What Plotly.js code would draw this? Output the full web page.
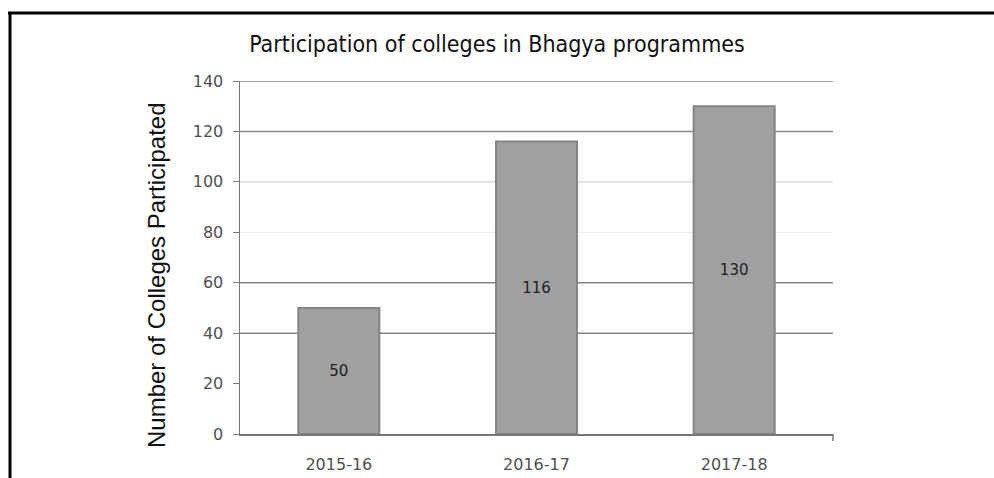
<!DOCTYPE html>
<html>
<head>
<meta charset="utf-8">
<script src="https://cdn.plot.ly/plotly-3.0.1.min.js"></script>
<style>
html,body{margin:0;padding:0;background:#fff;}
#chart{width:994px;height:478px;}
</style>
</head>
<body>
<div id="chart"></div>
<script>
var categories = ["2015-16", "2016-17", "2017-18"];
var colleges = [50, 116, 130];
var yTicks = [0, 20, 40, 60, 80, 100, 120, 140];
var darkGrid = [40, 60, 120, 140];
var midGrid = [100];
var lightGrid = [80];

var PW = 593, PH = 353, L = 240, B = 434;
function px(x){ return (x - L) / PW; }
function py(y){ return (B - y) / PH; }

var shapes = [];
// outer frame (top and left only)
shapes.push({type:'line', xref:'paper', yref:'paper', x0:px(8), x1:px(1000), y0:py(13), y1:py(13), line:{color:'#000', width:3}});
shapes.push({type:'line', xref:'paper', yref:'paper', x0:px(10), x1:px(10), y0:py(12), y1:py(490), line:{color:'#000', width:3}});
darkGrid.forEach(function(v){
  shapes.push({type:'line', xref:'paper', yref:'y', x0:0, x1:1, y0:v, y1:v, layer:'below', line:{color:'#858585', width:1.5}});
});
midGrid.forEach(function(v){
  shapes.push({type:'line', xref:'paper', yref:'y', x0:0, x1:1, y0:v, y1:v, layer:'below', line:{color:'#cacaca', width:1}});
});
lightGrid.forEach(function(v){
  shapes.push({type:'line', xref:'paper', yref:'y', x0:0, x1:1, y0:v, y1:v, layer:'below', line:{color:'#e6e6e6', width:1}});
});
// tick at right end of the category axis
shapes.push({type:'line', xref:'paper', yref:'paper', x0:1, x1:1, y0:0, y1:py(441), line:{color:'#777', width:1.5}});

var trace = {
  type:'bar',
  x: categories,
  y: colleges,
  text: colleges.map(String),
  textposition:'inside',
  insidetextanchor:'middle',
  textfont:{family:'DejaVu Sans', size:15, color:'#222'},
  width:0.41,
  marker:{color:'#a0a0a0', line:{color:'#848484', width:2}},
  hoverinfo:'none'
};

var layout = {
  width:994, height:478,
  margin:{l:L, r:994-L-PW, t:B-PH, b:478-B},
  paper_bgcolor:'#fff', plot_bgcolor:'#fff',
  showlegend:false,
  title:{text:'Participation of colleges in Bhagya programmes', x:0.5, xanchor:'center', y:1-44/478, yanchor:'middle',
    font:{family:'DejaVu Sans Condensed, DejaVu Sans', size:23, color:'#111'}},
  xaxis:{
    type:'category', showgrid:false, showline:true, linecolor:'#777', linewidth:1.5,
    ticks:'',
    tickfont:{family:'DejaVu Sans', size:16, color:'#505050'},
    ticklabelstandoff:15,
    fixedrange:true
  },
  yaxis:{
    range:[0,140], tickvals:yTicks, ticktext:yTicks.map(String),
    showgrid:false, zeroline:false, showline:true, linecolor:'#777', linewidth:1.5,
    ticks:'outside', ticklen:6, tickcolor:'#777',
    tickfont:{family:'DejaVu Sans', size:16, color:'#505050'},
    ticklabelstandoff:6,
    fixedrange:true
  },
  annotations:[{
    text:'Number of Colleges Participated', xref:'paper', yref:'paper',
    x:px(156), y:py(275), xanchor:'center', yanchor:'middle', textangle:-90, showarrow:false,
    font:{family:'Liberation Sans, Arial', size:24, color:'#111'}
  }],
  shapes:shapes,
  bargap:0.59
};

Plotly.newPlot('chart', [trace], layout, {displayModeBar:false, staticPlot:true});
</script>
</body>
</html>
